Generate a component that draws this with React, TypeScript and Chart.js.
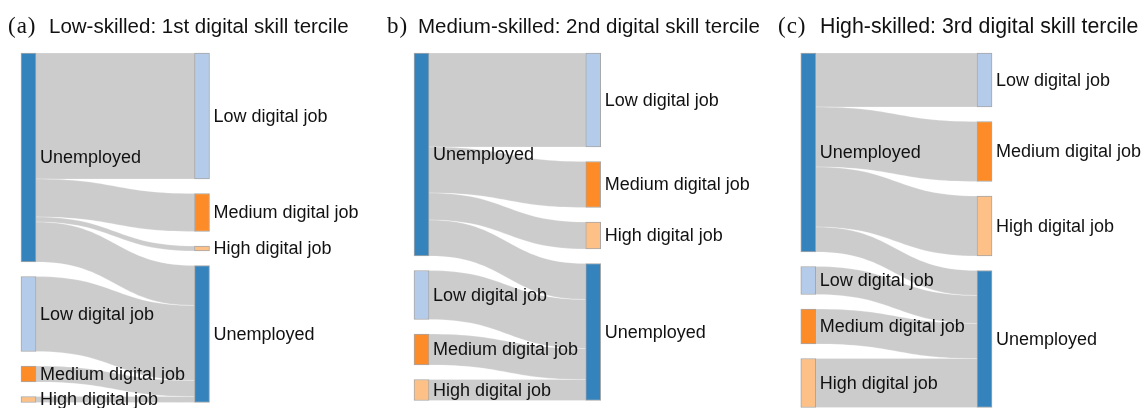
import React, { useEffect, useRef } from 'react';
import { Chart, registerables } from 'chart.js';

Chart.register(...registerables);

// ---- data ----
const leftNodes = ['Unemployed', 'Low digital job', 'Medium digital job', 'High digital job'];
const rightNodes = ['Low digital job', 'Medium digital job', 'High digital job', 'Unemployed'];

// flows[leftNode][rightNode]
const flowsLowSkilled = [
  [126, 38, 5, 40],
  [0, 0, 0, 75],
  [0, 0, 0, 16],
  [0, 0, 0, 6],
];
const flowsMediumSkilled = [
  [94, 46, 27, 36],
  [0, 0, 0, 49],
  [0, 0, 0, 31],
  [0, 0, 0, 21],
];
const flowsHighSkilled = [
  [54, 60, 60, 25],
  [0, 0, 0, 28],
  [0, 0, 0, 35],
  [0, 0, 0, 49],
];

const panelTags = ['(a)', 'b)', '(c)'];
const panelTitles = [
  'Low-skilled: 1st digital skill tercile',
  'Medium-skilled: 2nd digital skill tercile',
  'High-skilled: 3rd digital skill tercile',
];

const nodeColors: Record<string, string> = {
  'Unemployed': '#3483bd',
  'Low digital job': '#b4cbe9',
  'Medium digital job': '#fd8c28',
  'High digital job': '#fdc086',
};

const NODE_PAD = 14.5;
const NODE_WIDTH = 15;
const TOP = 53;
const H = 408;

type Link = { s0: number; s1: number; t0: number; t1: number };

function layoutSankey(flows: number[][]) {
  const leftTotals = flows.map((r) => r.reduce((a, b) => a + b, 0));
  const rightTotals = rightNodes.map((_, j) => flows.reduce((a, r) => a + r[j], 0));
  const nodes: { label: string; col: number; y0: number; y1: number }[] = [];
  let y = 0;
  const leftStart: number[] = [];
  leftTotals.forEach((t, i) => {
    leftStart.push(y);
    nodes.push({ label: leftNodes[i], col: 0, y0: y, y1: y + t });
    y += t + NODE_PAD;
  });
  const leftExtent = y - NODE_PAD;
  y = 0;
  const rightStart: number[] = [];
  rightTotals.forEach((t, j) => {
    rightStart.push(y);
    nodes.push({ label: rightNodes[j], col: 1, y0: y, y1: y + t });
    y += t + NODE_PAD;
  });
  const rightExtent = y - NODE_PAD;
  const links: Link[] = [];
  const so = leftStart.slice();
  const to = rightStart.slice();
  flows.forEach((row, i) => {
    row.forEach((v, j) => {
      if (v > 0) {
        links.push({ s0: so[i], s1: so[i] + v, t0: to[j], t1: to[j] + v });
        so[i] += v;
        to[j] += v;
      }
    });
  });
  return { nodes, links, extent: Math.max(leftExtent, rightExtent) };
}

const sankeyPlugin = {
  id: 'sankeyPlugin',
  beforeDatasetsDraw(chart: any) {
    const o = chart.options.plugins.sankeyPlugin;
    const xs = chart.scales.x;
    const ys = chart.scales.y;
    const ctx = chart.ctx;
    const x0 = xs.getPixelForValue(0) + NODE_WIDTH / 2;
    const x1 = xs.getPixelForValue(1) - NODE_WIDTH / 2;
    const xm = (x0 + x1) / 2;
    ctx.save();
    (o.links as Link[]).forEach((l) => {
      const a0 = ys.getPixelForValue(l.s0);
      const a1 = ys.getPixelForValue(l.s1);
      const b0 = ys.getPixelForValue(l.t0);
      const b1 = ys.getPixelForValue(l.t1);
      ctx.beginPath();
      ctx.moveTo(x0, a0);
      ctx.bezierCurveTo(xm, a0, xm, b0, x1, b0);
      ctx.lineTo(x1, b1);
      ctx.bezierCurveTo(xm, b1, xm, a1, x0, a1);
      ctx.closePath();
      ctx.fillStyle = '#cccccc';
      ctx.fill();
      ctx.strokeStyle = 'rgba(255,255,255,0.45)';
      ctx.lineWidth = 0.5;
      ctx.stroke();
    });
    ctx.restore();
  },
  afterDatasetsDraw(chart: any) {
    const o = chart.options.plugins.sankeyPlugin;
    const xs = chart.scales.x;
    const ys = chart.scales.y;
    const ctx = chart.ctx;
    ctx.save();
    ctx.font = '18px "Liberation Sans", Arial, sans-serif';
    ctx.fillStyle = '#111111';
    ctx.textBaseline = 'middle';
    ctx.textAlign = 'left';
    (o.nodes as any[]).forEach((n) => {
      const x = xs.getPixelForValue(n.col) + NODE_WIDTH / 2 + 4;
      const y = (ys.getPixelForValue(n.y0) + ys.getPixelForValue(n.y1)) / 2 + 1;
      ctx.fillText(n.label, x, y);
    });
    // title
    ctx.textBaseline = 'alphabetic';
    ctx.font = '23px "Liberation Serif", "Times New Roman", serif';
    (ctx as any).letterSpacing = '1px';
    ctx.fillText(o.tag, o.tagX, 33);
    (ctx as any).letterSpacing = '0px';
    ctx.font = o.titleSize + 'px "Liberation Sans", Arial, sans-serif';
    ctx.fillText(o.title, o.titleX, 33);
    ctx.restore();
  },
};

type PanelProps = {
  flows: number[][];
  tag: string;
  title: string;
  left: number;
  width: number;
  leftCenter: number;
  rightCenter: number;
  tagX: number;
  titleX: number;
  titleSize: number;
};

function SankeyPanel(p: PanelProps) {
  const ref = useRef<HTMLCanvasElement>(null);
  useEffect(() => {
    if (!ref.current) return;
    const lay = layoutSankey(p.flows);
    const chart = new Chart(ref.current, {
      type: 'bar',
      data: {
        datasets: [
          {
            data: lay.nodes.map((n) => ({ x: n.col, y: [n.y0, n.y1] })) as any,
            backgroundColor: lay.nodes.map((n) => nodeColors[n.label]),
            borderColor: 'rgba(60,60,60,0.45)',
            borderWidth: 1,
            borderSkipped: false,
            barThickness: NODE_WIDTH,
            clip: false,
          } as any,
        ],
      },
      options: {
        animation: false,
        responsive: false,
        events: [],
        layout: {
          padding: {
            left: p.leftCenter,
            right: p.width - p.rightCenter,
            top: TOP,
            bottom: H - TOP - lay.extent,
          },
        },
        scales: {
          x: { type: 'linear', min: 0, max: 1, display: false, offset: false } as any,
          y: { type: 'linear', min: 0, max: lay.extent, reverse: true, display: false },
        },
        plugins: {
          legend: { display: false },
          tooltip: { enabled: false },
          sankeyPlugin: {
            links: lay.links,
            nodes: lay.nodes,
            tag: p.tag,
            title: p.title,
            tagX: p.tagX,
            titleX: p.titleX,
            titleSize: p.titleSize,
          },
        } as any,
      },
      plugins: [sankeyPlugin],
    });
    return () => chart.destroy();
  }, []);
  return (
    <canvas
      ref={ref}
      width={p.width}
      height={H}
      style={{ position: 'absolute', left: p.left, top: 0, width: p.width, height: H }}
    />
  );
}

export default function App() {
  return (
    <div style={{ position: 'absolute', left: 0, top: 0, width: 1148, height: H, background: '#ffffff', overflow: 'hidden' }}>
      <SankeyPanel flows={flowsLowSkilled} tag={panelTags[0]} title={panelTitles[0]} left={0} width={383}
        leftCenter={28.5} rightCenter={202} tagX={8} titleX={49} titleSize={20.5} />
      <SankeyPanel flows={flowsMediumSkilled} tag={panelTags[1]} title={panelTitles[1]} left={383} width={383}
        leftCenter={38.5} rightCenter={210.2} tagX={4} titleX={35} titleSize={20.5} />
      <SankeyPanel flows={flowsHighSkilled} tag={panelTags[2]} title={panelTitles[2]} left={766} width={382}
        leftCenter={42.3} rightCenter={218.5} tagX={12} titleX={54} titleSize={21.3} />
    </div>
  );
}
